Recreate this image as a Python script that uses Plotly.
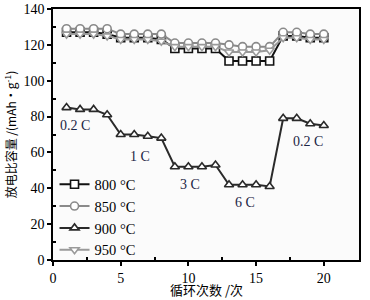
import plotly.graph_objects as go

cycles = list(range(1, 21))
cap_800 = [127, 127, 127, 126, 124, 124, 124, 123, 118, 118, 118, 118, 111, 111, 111, 111, 125, 125, 124, 124]
cap_850 = [129, 129, 129, 129, 126, 126, 126, 126, 121, 121, 121, 121, 120, 119, 119, 119, 127, 127, 126, 126]
cap_900 = [85, 84, 84, 81, 70, 70, 69, 68, 52, 52, 52, 53, 42, 42, 42, 41, 79, 79, 76, 75]
cap_950 = [126, 126, 126, 125, 123, 123, 123, 122, 119, 119, 119, 119, 116, 116, 116, 117, 124, 124, 123, 123]

series_names = ["800 °C", "850 °C", "900 °C", "950 °C"]
series_vals = [cap_800, cap_850, cap_900, cap_950]
colors = ["#111111", "#8a8a8a", "#2a2a2a", "#9a9a9a"]
symbols = ["square", "circle", "triangle-up", "triangle-down"]

rate_labels = ["0.2 C", "1 C", "3 C", "6 C", "0.2 C"]
rate_x = [1.6, 6.4, 10.1, 14.2, 18.8]
rate_y = [75, 58, 42, 32, 66]

font = "Liberation Serif"

fig = go.Figure()
for name, vals, c, s in zip(series_names, series_vals, colors, symbols):
    fig.add_trace(go.Scatter(
        x=cycles, y=vals, name=name, mode="lines+markers",
        line=dict(color=c, width=2),
        marker=dict(symbol=s, size=8, color="white", line=dict(color=c, width=1.6)),
    ))

for t, x, y in zip(rate_labels, rate_x, rate_y):
    fig.add_annotation(x=x, y=y, text=t, showarrow=False,
                       font=dict(family=font, size=14, color="#1c2545"))

fig.add_annotation(x=0.5, y=-0.118, xref="paper", yref="paper", text="循环次数 /次",
                   showarrow=False, yanchor="middle",
                   font=dict(family="Noto Sans CJK SC", size=13, color="black"))
fig.add_annotation(x=-0.141, y=0.5, xref="paper", yref="paper",
                   text="放电比容量 /(mAh·g<sup>-1</sup>)", textangle=-90,
                   showarrow=False, xanchor="center",
                   font=dict(family="Noto Sans CJK SC", size=12, color="black"))

fig.update_layout(
    width=370, height=300,
    margin=dict(l=53, r=11, t=9, b=40),
    paper_bgcolor="white", plot_bgcolor="#fbfbfb",
    font=dict(family=font, size=14, color="black"),
    showlegend=True,
    legend=dict(x=0.005, y=-0.025, xanchor="left", yanchor="bottom",
                bgcolor="rgba(0,0,0,0)", font=dict(size=14.5, family=font),
                itemwidth=30, tracegroupgap=0),
)
fig.update_xaxes(
    range=[0, 22.6], tickvals=[0, 5, 10, 15, 20], ticks="outside", ticklen=4,
    tickwidth=1.5, tickcolor="black", tickfont=dict(family=font, size=14), automargin=False,
    minor=dict(ticks="inside", ticklen=3, tickvals=[2.5, 7.5, 12.5, 17.5], tickcolor="black", tickwidth=1.5),
    showline=True, linecolor="black", linewidth=1.5, mirror=True, showgrid=False, zeroline=False,
)
fig.update_yaxes(
    range=[0, 140], tickvals=[0, 20, 40, 60, 80, 100, 120, 140], ticks="outside", ticklen=4,
    tickwidth=1.5, tickcolor="black", tickfont=dict(family=font, size=14), automargin=False,
    minor=dict(ticks="inside", ticklen=3, tickvals=[10, 30, 50, 70, 90, 110, 130], tickcolor="black", tickwidth=1.5),
    showline=True, linecolor="black", linewidth=1.5, mirror=True, showgrid=False, zeroline=False,
)

fig.write_html("out.html", config={"displayModeBar": False},
               post_script="document.body.style.margin='0';document.body.style.overflow='hidden';")
